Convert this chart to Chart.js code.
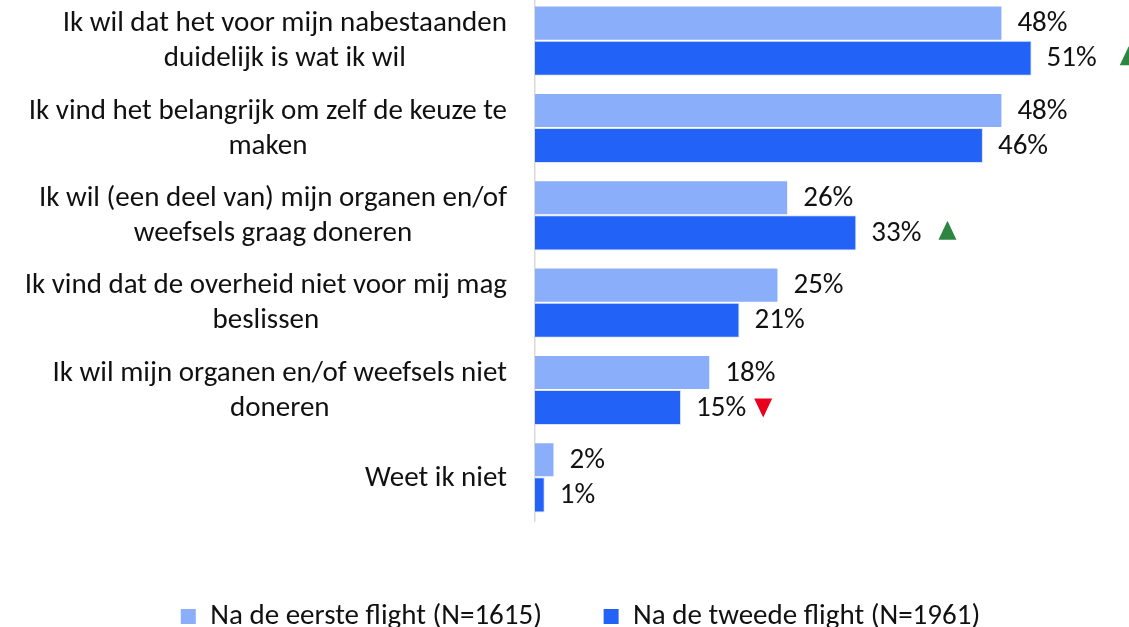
<!DOCTYPE html>
<html>
<head>
<meta charset="utf-8">
<script src="https://cdn.jsdelivr.net/npm/chart.js@4"></script>
<style>
  html, body { margin: 0; padding: 0; background: #fff; }
  #wrap { width: 1129px; height: 627px; overflow: hidden; }
  #chart { display: block; margin-top: -3px; }
</style>
</head>
<body>
<div id="wrap"><canvas id="chart" width="1129" height="630"></canvas></div>
<script>
// categories (one array entry per line of the label)
const categories = [
  ['Ik wil dat het voor mijn nabestaanden', 'duidelijk is wat ik wil'],
  ['Ik vind het belangrijk om zelf de keuze te', 'maken'],
  ['Ik wil (een deel van) mijn organen en/of', 'weefsels graag doneren'],
  ['Ik vind dat de overheid niet voor mij mag', 'beslissen'],
  ['Ik wil mijn organen en/of weefsels niet', 'doneren'],
  ['Weet ik niet']
];
const seriesNames = ['Na de eerste flight (N=1615)', 'Na de tweede flight (N=1961)'];
const firstFlight = [48, 48, 26, 25, 18, 2];
const secondFlight = [51, 46, 33, 21, 15, 1];
// significant change vs first flight
const change = ['up', '', 'up', '', 'down', ''];

const FONT = 'Carlito, Calibri, Lato, sans-serif';
const FS = 29;
const LIGHT = '#8aaefa';
const DARK = '#2262f6';
const markerGap = [23, 0, 17, 0, 8, 0];

const labelsPlugin = {
  id: 'barLabels',
  afterDatasetsDraw(chart) {
    const ctx = chart.ctx;
    ctx.save();
    ctx.font = FS + 'px ' + FONT;
    ctx.textBaseline = 'middle';
    ctx.textAlign = 'left';
    chart.data.datasets.forEach((ds, di) => {
      const meta = chart.getDatasetMeta(di);
      meta.data.forEach((bar, i) => {
        const txt = ds.data[i] + '%';
        const x = bar.x + 15;
        ctx.fillStyle = '#111';
        ctx.fillText(txt, x, bar.y + 1);
        if (di === 1 && change[i]) {
          const tx = x + ctx.measureText(txt).width + markerGap[i];
          ctx.beginPath();
          if (change[i] === 'up') {
            ctx.fillStyle = '#2e8540';
            ctx.moveTo(tx, bar.y + 7);
            ctx.lineTo(tx + 18, bar.y + 7);
            ctx.lineTo(tx + 9, bar.y - 12);
          } else {
            ctx.fillStyle = '#e8001c';
            ctx.moveTo(tx, bar.y - 9);
            ctx.lineTo(tx + 18, bar.y - 9);
            ctx.lineTo(tx + 9, bar.y + 10);
          }
          ctx.closePath();
          ctx.fill();
        }
      });
    });
    ctx.restore();
  }
};

// y labels: each block right aligned, lines centered within the block
const yLabelsPlugin = {
  id: 'yLabels',
  afterDraw(chart) {
    const ctx = chart.ctx;
    const y = chart.scales.y;
    ctx.save();
    ctx.font = FS + 'px ' + FONT;
    ctx.fillStyle = '#111';
    ctx.textBaseline = 'middle';
    ctx.textAlign = 'center';
    const right = y.right - 28;
    const lh = 35;
    categories.forEach((lines, i) => {
      const cy = y.getPixelForTick(i) + 1;
      const w = Math.max(...lines.map(l => ctx.measureText(l).width));
      const cx = right - w / 2;
      const top = cy - (lines.length - 1) * lh / 2;
      lines.forEach((l, k) => ctx.fillText(l, cx, top + k * lh));
    });
    ctx.restore();
  }
};

new Chart(document.getElementById('chart'), {
  type: 'bar',
  data: {
    labels: categories,
    datasets: [
      { label: seriesNames[0], data: firstFlight, backgroundColor: LIGHT, borderColor: 'rgba(255,255,255,0.35)', borderWidth: 1 },
      { label: seriesNames[1], data: secondFlight, backgroundColor: DARK, borderColor: 'rgba(180,200,255,0.5)', borderWidth: 1 }
    ]
  },
  options: {
    indexAxis: 'y',
    responsive: false,
    animation: false,
    devicePixelRatio: 1,
    layout: { padding: { top: 0, right: 0, left: 32, bottom: -14 } },
    datasets: { bar: { categoryPercentage: 0.803, barPercentage: 1.0 } },
    scales: {
      x: {
        min: 0,
        max: 61,
        ticks: { display: false },
        grid: { display: false },
        border: { display: false },
        afterFit: s => { s.height = 81; }
      },
      y: {
        ticks: { display: false },
        grid: { display: false },
        border: { color: '#d9d9d9', width: 1.5 },
        afterFit: s => { s.width = 503; }
      }
    },
    plugins: {
      tooltip: { enabled: false },
      legend: {
        position: 'bottom',
        labels: {
          font: { family: FONT, size: FS },
          color: '#111',
          boxWidth: 15,
          boxHeight: 15,
          padding: 0,
          generateLabels(chart) {
            const items = Chart.defaults.plugins.legend.labels.generateLabels(chart);
            items.forEach(it => { it.lineWidth = 0; });
            items[0].text += '\u2003\u2003\u200A';
            return items;
          }
        }
      }
    }
  },
  plugins: [labelsPlugin, yLabelsPlugin]
});
</script>
</body>
</html>
